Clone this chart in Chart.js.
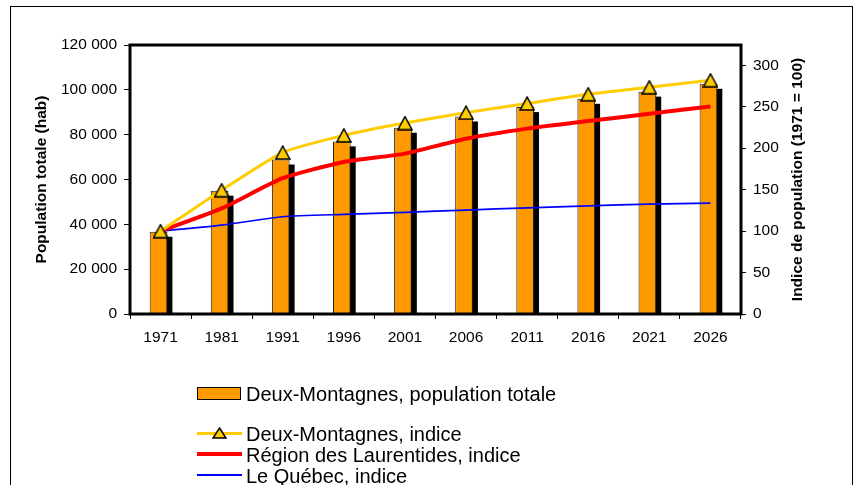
<!DOCTYPE html>
<html><head><meta charset="utf-8">
<script src="https://cdn.jsdelivr.net/npm/chart.js@4.4.0/dist/chart.umd.min.js"></script>
<style>
body{margin:0;background:#fff;}
#wrap{position:relative;width:862px;height:485px;overflow:hidden;font-family:"Liberation Sans",Arial,sans-serif;background:#fff;}
#frame{position:absolute;left:10px;top:6px;width:841px;height:600px;border:1px solid #000;}
#c{position:absolute;left:0;top:0;}
.lt{position:absolute;left:246px;font-size:20px;line-height:20px;color:#000;white-space:nowrap;}
.ll{position:absolute;left:197px;width:45px;}
</style></head><body>
<div id="wrap">
<div id="frame"></div>
<canvas id="c" width="862" height="485"></canvas>
<div id="legend">
  <div style="position:absolute;left:197px;top:387px;width:44px;height:13px;box-sizing:border-box;background:#FF9900;border:1.5px solid #000;"></div>
  <div class="lt" style="top:384px;">Deux-Montagnes, population totale</div>
  <div class="ll" style="top:432px;height:3px;background:#FFCC00;"></div>
  <svg style="position:absolute;left:212px;top:427px;" width="15" height="12"><polygon points="7.5,1 14,11 1,11" fill="#FFCC00" stroke="#000" stroke-width="1.5"/></svg>
  <div class="lt" style="top:424px;">Deux-Montagnes, indice</div>
  <div class="ll" style="top:452px;height:4px;background:#FF0000;"></div>
  <div class="lt" style="top:445px;">Région des Laurentides, indice</div>
  <div class="ll" style="top:474px;height:1.7px;background:#0000FF;"></div>
  <div class="lt" style="top:466px;">Le Québec, indice</div>
</div>
</div>
<script>
const years = ['1971','1981','1991','1996','2001','2006','2011','2016','2021','2026'];
const popDeuxMontagnes = [36700, 55000, 68900, 77000, 83100, 88100, 92300, 96000, 99200, 102700];
const indiceDeuxMontagnes = [100, 149.4, 194.8, 215.5, 230.3, 242.9, 254, 265.1, 273.6, 282];
const indiceLaurentides = [100, 127.4, 163.8, 183.4, 193.5, 211.5, 223.6, 232.7, 241.6, 250.4];
const indiceQuebec = [100, 107.3, 117.3, 120.2, 122.6, 125.4, 128.1, 130.5, 132.6, 133.8];
const leftTicks = [0, 20000, 40000, 60000, 80000, 100000, 120000];
const rightTicks = [0, 50, 100, 150, 200, 250, 300];

function triangle(){
  const w=14,h=13;
  const c=document.createElement('canvas'); c.width=w+2; c.height=h+2;
  const g=c.getContext('2d');
  g.beginPath(); g.moveTo((w+2)/2,1); g.lineTo(w+1,h+1); g.lineTo(1,h+1); g.closePath();
  g.fillStyle='#FFCC00'; g.fill(); g.lineWidth=1.5; g.strokeStyle='#000'; g.stroke();
  return c;
}
const tri = triangle();
const FONT = '"Liberation Sans", Arial, sans-serif';

const barFx = {
  id:'barFx',
  beforeDatasetDraw(chart,args){
    if(args.index!==0) return;
    const ctx=chart.ctx; ctx.save(); ctx.translate(-2,0);
    ctx.fillStyle='#000';
    args.meta.data.forEach(el=>{
      const p=el.getProps(['x','y','base','width'],true);
      const top=p.y+5; const h=p.base-top;
      if(h>0) ctx.fillRect(p.x-p.width/2+5, top, p.width, h);
    });
  },
  afterDatasetDraw(chart,args){
    if(args.index!==0) return;
    chart.ctx.restore();
  }
};
const frameFx = {
  id:'frameFx',
  afterDraw(chart){
    const {ctx, chartArea:a}=chart;
    ctx.save();
    ctx.strokeStyle='#000'; ctx.lineWidth=3;
    ctx.strokeRect(a.left,a.top,a.right-a.left,a.bottom-a.top);
    ctx.fillStyle='#000'; ctx.font='bold 15.5px '+FONT;
    ctx.textAlign='center'; ctx.textBaseline='middle';
    const cy=(a.top+a.bottom)/2;
    ctx.translate(42,cy); ctx.rotate(-Math.PI/2);
    ctx.fillText('Population totale (hab)',0,0);
    ctx.restore();
    ctx.save();
    ctx.fillStyle='#000'; ctx.font='bold 15.5px '+FONT;
    ctx.textAlign='center'; ctx.textBaseline='middle';
    ctx.translate(798,cy); ctx.rotate(-Math.PI/2);
    ctx.fillText('Indice de population (1971 = 100)',0,0);
    ctx.restore();
  }
};
function fmt(v){ return String(v).replace(/\B(?=(\d{3})+(?!\d))/g,' '); }
const tickFont={family:FONT,size:15.5};

new Chart(document.getElementById('c'),{
  data:{
    labels:years,
    datasets:[
      {type:'bar',label:'Deux-Montagnes, population totale',data:popDeuxMontagnes,yAxisID:'y',
       backgroundColor:'#FF9900',borderColor:'#222',borderWidth:1,barPercentage:0.29,categoryPercentage:1,order:5},
      {type:'line',label:'Le Québec, indice',data:indiceQuebec,yAxisID:'y2',borderColor:'#0000FF',borderWidth:1.7,
       pointRadius:0,tension:0.2,order:3},
      {type:'line',label:'Région des Laurentides, indice',data:indiceLaurentides,yAxisID:'y2',borderColor:'#FF0000',borderWidth:4,
       pointRadius:0,tension:0.2,order:2},
      {type:'line',label:'Deux-Montagnes, indice',data:indiceDeuxMontagnes,yAxisID:'y2',borderColor:'#FFCC00',borderWidth:3,
       pointStyle:tri,pointRadius:8,tension:0.2,order:1}
    ]
  },
  options:{
    responsive:false,animation:false,
    layout:{padding:{top:45,left:0,right:0,bottom:0}},
    plugins:{legend:{display:false},tooltip:{enabled:false},title:{display:false}},
    scales:{
      x:{type:'category',offset:true,
         grid:{display:true,drawOnChartArea:false,drawTicks:true,tickLength:5,offset:true,color:'#000',lineWidth:1},
         border:{display:false},
         ticks:{font:tickFont,color:'#000',padding:9,maxRotation:0},
         afterFit(s){s.height=485-314;}},
      y:{type:'linear',position:'left',min:0,max:120000,
         grid:{drawOnChartArea:false,tickLength:6,color:'#000'},
         border:{display:false},
         afterBuildTicks(s){s.ticks=leftTicks.map(v=>({value:v}));},
         ticks:{font:tickFont,color:'#000',padding:7,callback:v=>fmt(v)},
         afterFit(s){s.width=130;}},
      y2:{type:'linear',position:'right',min:0,max:324.5,
         grid:{drawOnChartArea:false,tickLength:5,color:'#000'},
         border:{display:false},
         afterBuildTicks(s){s.ticks=rightTicks.map(v=>({value:v}));},
         ticks:{font:tickFont,color:'#000',padding:7},
         afterFit(s){s.width=862-741;}}
    }
  },
  plugins:[barFx,frameFx]
});
</script>
</body></html>
